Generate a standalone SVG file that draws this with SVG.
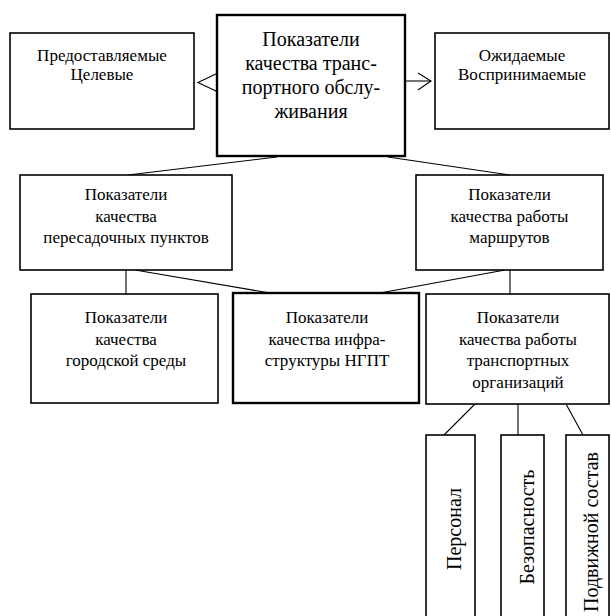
<svg xmlns="http://www.w3.org/2000/svg" width="611" height="616" viewBox="0 0 611 616">
<style>
  .box { fill: #fff; stroke: #000; stroke-width: 1.6; }
  .thick { stroke-width: 2.4; }
  .t { font-family: "Liberation Serif", "Times New Roman", serif; font-size: 17px; fill: #000; text-anchor: middle; }
  .tl { font-size: 20px; }
  .c { fill: none; stroke: #000; stroke-width: 1.1; }
</style>
<rect width="611" height="616" fill="#fff"/>
<g id="connectors">
  <polyline class="c" points="218,73 198,82.5 218,92"/>
  <line class="c" x1="406" y1="81" x2="431" y2="81"/>
  <polyline class="c" points="418,73 431,81 418,90"/>
  <line class="c" x1="277" y1="157" x2="128" y2="175"/>
  <line class="c" x1="388" y1="157" x2="510" y2="175"/>
  <line class="c" x1="126" y1="270" x2="126" y2="294"/>
  <line class="c" x1="135" y1="270" x2="270" y2="293"/>
  <line class="c" x1="505" y1="270" x2="380" y2="293"/>
  <line class="c" x1="510" y1="270" x2="510" y2="294"/>
  <line class="c" x1="475" y1="404" x2="444" y2="435"/>
  <line class="c" x1="518" y1="404" x2="518" y2="435"/>
  <line class="c" x1="566" y1="404" x2="583" y2="435"/>
</g>
<g id="node-provided">
  <rect class="box" x="10" y="33" width="184" height="96"/>
  <text class="t" x="102" y="61">Предоставляемые</text>
  <text class="t" x="102" y="80">Целевые</text>
</g>
<g id="node-main">
  <rect class="box thick" x="217" y="15" width="188" height="141"/>
  <text class="t tl" x="311" y="46">Показатели</text>
  <text class="t tl" x="311" y="70">качества транс-</text>
  <text class="t tl" x="311" y="94">портного обслу-</text>
  <text class="t tl" x="311" y="118">живания</text>
</g>
<g id="node-expected">
  <rect class="box" x="435" y="33" width="174" height="96"/>
  <text class="t" x="522" y="61">Ожидаемые</text>
  <text class="t" x="522" y="80">Воспринимаемые</text>
</g>
<g id="node-transfer">
  <rect class="box" x="20" y="175" width="212" height="95"/>
  <text class="t" x="126" y="200">Показатели</text>
  <text class="t" x="126" y="221.5">качества</text>
  <text class="t" x="126" y="243">пересадочных пунктов</text>
</g>
<g id="node-routes">
  <rect class="box" x="416" y="175" width="187" height="95"/>
  <text class="t" x="509.5" y="200">Показатели</text>
  <text class="t" x="509.5" y="221.5">качества работы</text>
  <text class="t" x="509.5" y="243">маршрутов</text>
</g>
<g id="node-city">
  <rect class="box" x="31" y="294" width="187" height="109"/>
  <text class="t" x="126" y="323">Показатели</text>
  <text class="t" x="126" y="344.5">качества</text>
  <text class="t" x="126" y="366">городской среды</text>
</g>
<g id="node-infra">
  <rect class="box thick" x="233" y="293" width="186" height="110"/>
  <text class="t" x="327" y="323">Показатели</text>
  <text class="t" x="327" y="344.5">качества инфра-</text>
  <text class="t" x="327" y="366">структуры НГПТ</text>
</g>
<g id="node-orgs">
  <rect class="box" x="426" y="294" width="183" height="110"/>
  <text class="t" x="518" y="323">Показатели</text>
  <text class="t" x="518" y="344.5">качества работы</text>
  <text class="t" x="518" y="366">транспортных</text>
  <text class="t" x="518" y="387.5">организаций</text>
</g>
<g id="node-staff">
  <rect class="box" x="426" y="435" width="49" height="190"/>
  <text class="t tl" transform="translate(461,529) rotate(-90)">Персонал</text>
</g>
<g id="node-safety">
  <rect class="box" x="501" y="435" width="43" height="190"/>
  <text class="t tl" transform="translate(534,527) rotate(-90)">Безопасность</text>
</g>
<g id="node-rolling">
  <rect class="box" x="566" y="435" width="43" height="190"/>
  <text class="t tl" transform="translate(598,532) rotate(-90)">Подвижной состав</text>
</g>
</svg>
